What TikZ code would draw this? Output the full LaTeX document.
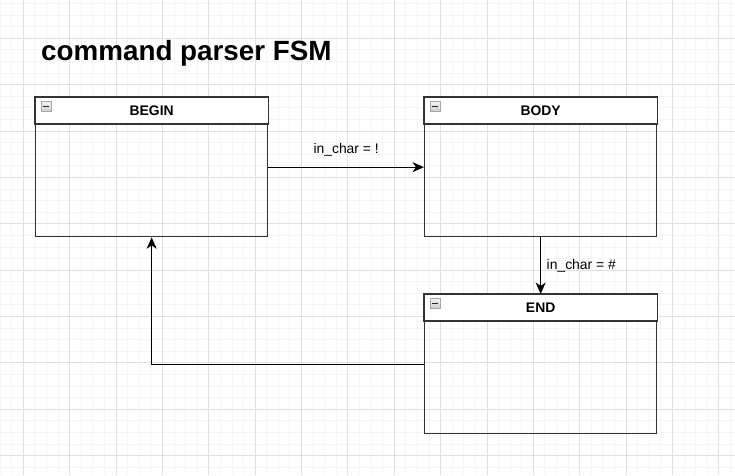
\documentclass[tikz,border=0pt]{standalone}
\usepackage{fontspec}
\setmainfont{Liberation Sans}
\usepackage{tikz}
\usetikzlibrary{calc}
\usetikzlibrary{positioning}
\usetikzlibrary{arrows.meta}
\definecolor{minorgrid}{RGB}{245,245,245}
\definecolor{majorgrid}{RGB}{224,224,224}
\definecolor{boxline}{RGB}{51,51,51}
\tikzset{
    % 网格线
    minorline/.style={line width=0.8pt, minorgrid},
    majorline/.style={line width=0.8pt, majorgrid},
    % 状态框
    statebox/.style={
        draw=boxline,
        line width=1.3pt,
        anchor=north west,
        minimum width=232pt,
        minimum height=139pt,
        inner sep=0pt
    },
    headerbox/.style={draw=boxline, line width=1.3pt, fill=white},
    statetitle/.style={inner sep=0pt, font=\fontsize{13.9}{16}\selectfont\bfseries},
    iconbox/.style={draw=gray!70, line width=0.6pt, top color=gray!10, bottom color=gray!40},
    % 转移箭头
    fsmarrow/.style={
        line width=1.1pt,
        black,
        ->,
        >={Stealth[length=11.5pt, width=10pt, inset=3.5pt]}
    },
    edgelabel/.style={inner sep=0pt, black, font=\fontsize{13.9}{16}\selectfont}
}
\begin{document}
\begin{tikzpicture}[x=1pt,y=-1pt]
	\useasboundingbox (0,0) rectangle (735,475);
	\fill[white] (0,0) rectangle (735,475);
	
	% 背景网格
	\foreach \i in {0,...,63}
		\draw[minorline] ({0.12+11.59*\i},0) -- ++(0,475);
	\foreach \i in {0,...,40}
		\draw[minorline] (0,{3.53+11.59*\i}) -- ++(735,0);
	\foreach \i in {0,...,15}
		\draw[majorline] ({23.3+46.36*\i},0) -- ++(0,475);
	\foreach \i in {0,...,9}
		\draw[majorline] (0,{38.3+46.36*\i}) -- ++(735,0);
	
	% 标题
	\node[anchor=base west, inner sep=0pt, font=\fontsize{27.8}{33}\selectfont\bfseries] (title) at (41,60) {command parser FSM};
	
	% 三个状态
	\foreach \nm/\xx/\yy/\txt in {begin/35/97/BEGIN, body/424/97/BODY, endst/424/294/END} {
		\node[statebox] (\nm) at (\xx,\yy) {};
		\draw[headerbox] (\nm.north west) rectangle ($(\nm.north east)+(0,27)$);
		\node[statetitle] (\nm title) at ($(\nm.north)+(0,13.5)$) {\txt};
		\draw[iconbox] ($(\nm.north west)+(6,4.5)$) rectangle +(10,10);
		\draw[line width=1.2pt, black!85] ($(\nm.north west)+(8.3,9.5)$) -- +(5.4,0);
	}
	
	% 转移
	\draw[fsmarrow] (begin) -- node[edgelabel, above=10pt] (lbl1) {in\_char = !} (body);
	\draw[fsmarrow] (body) -- node[edgelabel, right=5.5pt] (lbl2) {in\_char = \#} (endst);
	\draw[fsmarrow] (endst.west) -| (begin.south);
\end{tikzpicture}
\end{document}
